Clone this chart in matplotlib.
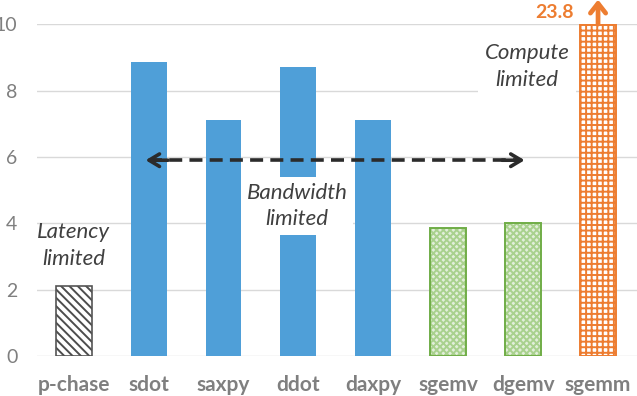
import matplotlib.pyplot as plt
import numpy as np

# values
kernels = ['p-chase', 'sdot', 'saxpy', 'ddot', 'daxpy', 'sgemv', 'dgemv', 'sgemm']
values = [2.1, 8.85, 7.1, 8.7, 7.1, 3.85, 4.0, 23.8]
y_max = 10
y_ticks = [0, 2, 4, 6, 8, 10]
arrow_level = 5.9
arrow_from, arrow_to = 'sdot', 'dgemv'

plt.rcParams['font.family'] = ['Lato', 'DejaVu Sans']
plt.rcParams['hatch.linewidth'] = 1.4

fig = plt.figure(figsize=(6.37, 3.96), dpi=100)
ax = fig.add_axes([0.058, 0.101, 0.942, 0.838])

x = np.arange(len(kernels))
shown = [min(v, y_max) for v in values]
w = 0.48

blue = '#4f9fd8'
green = '#70ad47'
orange = '#ed7d31'

# p-chase: gray diagonal hatch
ax.bar(x[0], shown[0], w, color='white', edgecolor='#4d4d4d', hatch='\\\\\\\\', lw=0, zorder=2)
ax.bar(x[0], shown[0], w, fill=False, edgecolor='#555555', lw=1.2, zorder=3)
# bandwidth bound kernels
ax.bar(x[1:5], shown[1:5], w, color=blue, zorder=2)
# sgemv / dgemv: light green checker
ax.bar(x[5:7], shown[5:7], w, color='#e2efda', edgecolor='#a9d18e', hatch='xxxxx', lw=0, zorder=2)
ax.bar(x[5:7], shown[5:7], w, fill=False, edgecolor=green, lw=1.4, zorder=3)
# sgemm: orange grid
ax.bar(x[7], shown[7], w, color='white', edgecolor=orange, hatch='+++', lw=0, zorder=2)
ax.bar(x[7], shown[7], w, fill=False, edgecolor=orange, lw=1.4, zorder=3)

ax.set_xlim(-0.49, 7.52)
ax.set_ylim(0, y_max)
ax.set_yticks(y_ticks)
ax.set_xticks(x)
ax.set_xticklabels(kernels, fontweight='bold')
ax.tick_params(axis='y', length=0, pad=14, labelsize=14, labelcolor='#7f7f7f')
ax.tick_params(axis='x', length=0, pad=14, labelsize=15, labelcolor='#7f7f7f')
ax.grid(axis='y', color='#d9d9d9', lw=1, zorder=0)
ax.set_axisbelow(True)
for s in ax.spines.values():
    s.set_visible(False)

# clipped sgemm bar: arrow + real value
ax.annotate('', xy=(x[7], y_max + 0.74), xytext=(x[7], y_max),
            arrowprops=dict(arrowstyle='->,head_length=0.7,head_width=0.55',
                            color=orange, lw=3.4, shrinkA=0, shrinkB=0),
            annotation_clip=False, zorder=5)
ax.text(x[7] - 0.32, y_max + 0.36, f'{values[7]}', color=orange, fontsize=14,
        fontweight='bold', ha='right', va='center', clip_on=False)

# dashed double arrow over bandwidth-limited kernels
xa = kernels.index(arrow_from) - 0.04
xb = kernels.index(arrow_to) + 0.02
ax.plot([xa + 0.05, xb - 0.05], [arrow_level, arrow_level], color='#2b2b2b', lw=2.6,
        dashes=(3.6, 2.0), zorder=4)
for tip, tail in [(xa, xa + 0.3), (xb, xb - 0.3)]:
    ax.annotate('', xy=(tip, arrow_level), xytext=(tail, arrow_level),
                arrowprops=dict(arrowstyle='->,head_length=0.75,head_width=0.45',
                                color='#2b2b2b', lw=2.6, shrinkA=0, shrinkB=0,
                                linestyle='-'),
                zorder=4)

note = dict(fontsize=16, style='italic', color='#404040', ha='center', va='center',
            linespacing=1.4)
ax.text(0, 3.33, 'Latency\nlimited', zorder=6, **note)
ax.text(2.98, 4.52, 'Bandwidth\nlimited', zorder=6,
        bbox=dict(facecolor='white', edgecolor='none', pad=4), **note)
ax.text(6.05, 8.72, 'Compute\nlimited', zorder=1,
        bbox=dict(facecolor='white', edgecolor='none', pad=5), **note)

fig.savefig('out.png', dpi=100)
